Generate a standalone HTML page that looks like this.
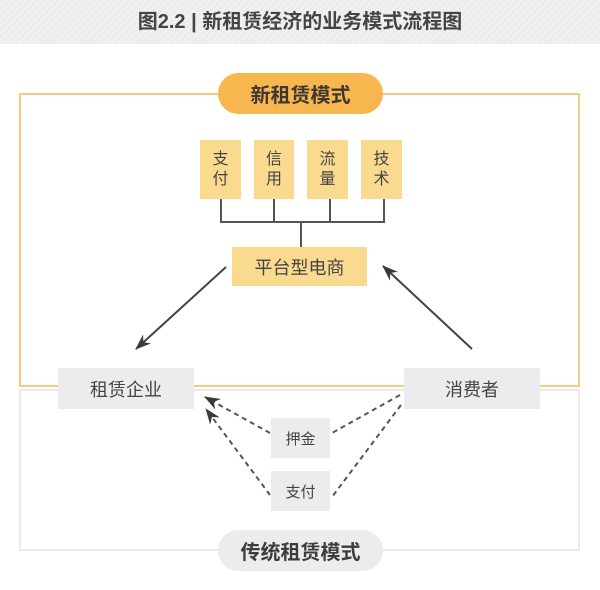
<!DOCTYPE html>
<html>
<head>
<meta charset="utf-8">
<style>
  html, body { margin: 0; padding: 0; }
  body {
    width: 600px; height: 590px; position: relative; overflow: hidden;
    background: #ffffff;
    font-family: "Liberation Sans", "Noto Sans CJK SC", sans-serif;
  }
  .header {
    position: absolute; left: 0; top: 0; width: 600px; height: 44px;
    background: repeating-linear-gradient(135deg, #ececec 0px, #ececec 3px, #f1f1f1 3px, #f1f1f1 5px);
  }
  .title {
    position: absolute; left: 0; top: 0; width: 600px; height: 44px;
    line-height: 44px; text-align: center; font-size: 20px; font-weight: 700; color: #444;
  }
  .box {
    position: absolute; display: flex; align-items: center; justify-content: center;
    color: #444;
  }
  .y { background: #fada8f; }
  .g { background: #ececee; }
  .v { flex-direction: column; font-size: 16px; line-height: 20px; }
  svg { position: absolute; left: 0; top: 0; }
</style>
</head>
<body>
<div class="header"></div>
<div class="title">图2.2 | 新租赁经济的业务模式流程图</div>

<svg width="600" height="590" viewBox="0 0 600 590">
  <defs>
    <marker id="ah" markerUnits="userSpaceOnUse" viewBox="0 0 16 12" refX="15" refY="6" markerWidth="16" markerHeight="12" orient="auto">
      <path d="M0,0 L16,6 L0,12 L5,6 z" fill="#3a3a3a" stroke="none"/>
    </marker>
  </defs>
  <!-- orange frame -->
  <rect x="20" y="94" width="559" height="292" fill="none" stroke="#f9c97e" stroke-width="2"/>
  <!-- gray frame -->
  <rect x="20" y="390" width="559" height="160" fill="none" stroke="#ebebeb" stroke-width="2"/>
  <!-- tree connectors -->
  <g stroke="#555" stroke-width="2" fill="none">
    <line x1="221" y1="199" x2="221" y2="223"/>
    <line x1="274" y1="199" x2="274" y2="223"/>
    <line x1="330" y1="199" x2="330" y2="223"/>
    <line x1="384" y1="199" x2="384" y2="223"/>
    <line x1="220" y1="222" x2="385" y2="222"/>
    <line x1="301" y1="222" x2="301" y2="247"/>
  </g>
  <!-- solid arrows -->
  <g stroke="#444" stroke-width="2" fill="none">
    <line x1="226" y1="267" x2="136" y2="349" marker-end="url(#ah)"/>
    <line x1="472" y1="349" x2="383" y2="266" marker-end="url(#ah)"/>
  </g>
  <!-- dashed -->
  <g stroke="#555" stroke-width="2" fill="none" stroke-dasharray="5 4">
    <line x1="270" y1="433" x2="205" y2="397" marker-end="url(#ah)"/>
    <line x1="270" y1="495" x2="206" y2="409" marker-end="url(#ah)"/>
    <line x1="400" y1="395" x2="332" y2="433"/>
    <line x1="401" y1="405" x2="332" y2="497"/>
  </g>
</svg>

<!-- orange pill -->
<div class="box" style="left:218px;top:73px;width:165px;height:41px;border-radius:21px;background:#f8b74e;font-size:20px;font-weight:700;color:#3d3833;">新租赁模式</div>

<!-- small boxes -->
<div class="box y v" style="left:200px;top:140px;width:41px;height:59px;"><span>支</span><span>付</span></div>
<div class="box y v" style="left:254px;top:140px;width:40px;height:59px;"><span>信</span><span>用</span></div>
<div class="box y v" style="left:307px;top:140px;width:41px;height:59px;"><span>流</span><span>量</span></div>
<div class="box y v" style="left:361px;top:140px;width:41px;height:59px;"><span>技</span><span>术</span></div>

<div class="box y" style="left:232px;top:247px;width:135px;height:39px;font-size:18px;">平台型电商</div>

<div class="box g" style="left:58px;top:368px;width:136px;height:41px;font-size:18px;">租赁企业</div>
<div class="box g" style="left:404px;top:368px;width:136px;height:41px;font-size:18px;">消费者</div>

<div class="box g" style="left:271px;top:418px;width:59px;height:40px;font-size:15px;">押金</div>
<div class="box g" style="left:271px;top:471px;width:59px;height:40px;font-size:15px;">支付</div>

<!-- gray pill -->
<div class="box" style="left:218px;top:530px;width:165px;height:41px;border-radius:21px;background:#ececee;font-size:20px;font-weight:700;color:#3d3d3d;">传统租赁模式</div>
</body>
</html>
